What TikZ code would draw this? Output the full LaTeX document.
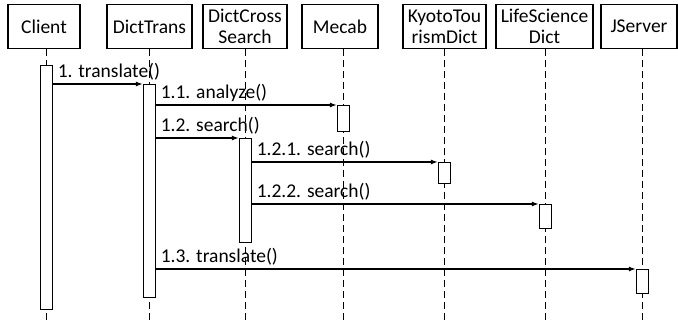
\documentclass[tikz,border=0pt]{standalone}
\usepackage{fontspec}
\setmainfont{Carlito}
\usetikzlibrary{arrows.meta}
\begin{document}
\begin{tikzpicture}[x=1pt,y=-1pt,
  every node/.style={font=\fontsize{19.5}{21}\selectfont},
  head/.style={draw,line width=1.3pt,rectangle,minimum height=44pt,inner sep=0pt,align=center},
  bar/.style={draw,line width=1.3pt,fill=white,rectangle,minimum width=12pt,inner sep=0pt,anchor=north},
  life/.style={line width=1.3pt,dash pattern=on 7pt off 4pt},
  msg/.style={line width=1.2pt,-{Latex[length=7pt,width=5pt]}},
  lbl/.style={anchor=south west,inner sep=0pt,yshift=3pt,xshift=4pt}]
\useasboundingbox (0,0) rectangle (678,326);
% headers
\node[head,minimum width=72pt] (hC) at (44,26.5) {Client};
\node[head,minimum width=85pt] (hT) at (149.5,26.5) {DictTrans};
\node[head,minimum width=84pt] (hS) at (245,26.5) {DictCross\\Search};
\node[head,minimum width=76pt] (hM) at (340,26.5) {Mecab};
\node[head,minimum width=83pt] (hK) at (444.5,26.5) {KyotoTou\\rismDict};
\node[head,minimum width=97pt] (hL) at (544.5,26.5) {LifeScience\\Dict};
\node[head,minimum width=76pt] (hJ) at (639,26.5) {JServer};
% lifeline ends
\coordinate (eC) at (46.5,322);
\coordinate (eT) at (149.5,322);
\coordinate (eS) at (245.5,322);
\coordinate (eM) at (343.5,322);
\coordinate (eK) at (444.5,322);
\coordinate (eL) at (545.5,322);
\coordinate (eJ) at (642.5,322);
\foreach \h/\e in {hC/eC,hT/eT,hS/eS,hM/eM,hK/eK,hL/eL,hJ/eJ}
  \draw[life] (\e |- \h.south) -- (\e);
% activation bars
\node[bar,minimum height=244pt] (bC) at (46.5,65) {};
\node[bar,minimum height=213pt] (bT) at (149.5,84) {};
\node[bar,minimum height=104pt] (bS) at (245.5,138) {};
\node[bar,minimum height=26pt] (bM) at (343.5,105) {};
\node[bar,minimum height=21pt] (bK) at (444.5,162) {};
\node[bar,minimum height=24pt] (bL) at (545.5,204) {};
\node[bar,minimum height=24pt] (bJ) at (642.5,269) {};
% messages
\draw[msg] (bC.east |- bT.north) -- (bT.north west) node[lbl] at (bC.east |- bT.north) {1. translate()};
\draw[msg] (bT.east |- bM.north) -- (bM.north west) node[lbl] at (bT.east |- bM.north) {1.1. analyze()};
\draw[msg] (bT.east |- bS.north) -- (bS.north west) node[lbl] at (bT.east |- bS.north) {1.2. search()};
\draw[msg] (bS.east |- bK.north) -- (bK.north west) node[lbl] at (bS.east |- bK.north) {1.2.1. search()};
\draw[msg] (bS.east |- bL.north) -- (bL.north west) node[lbl] at (bS.east |- bL.north) {1.2.2. search()};
\draw[msg] (bT.east |- bJ.north) -- (bJ.north west) node[lbl] at (bT.east |- bJ.north) {1.3. translate()};
\end{tikzpicture}
\end{document}
